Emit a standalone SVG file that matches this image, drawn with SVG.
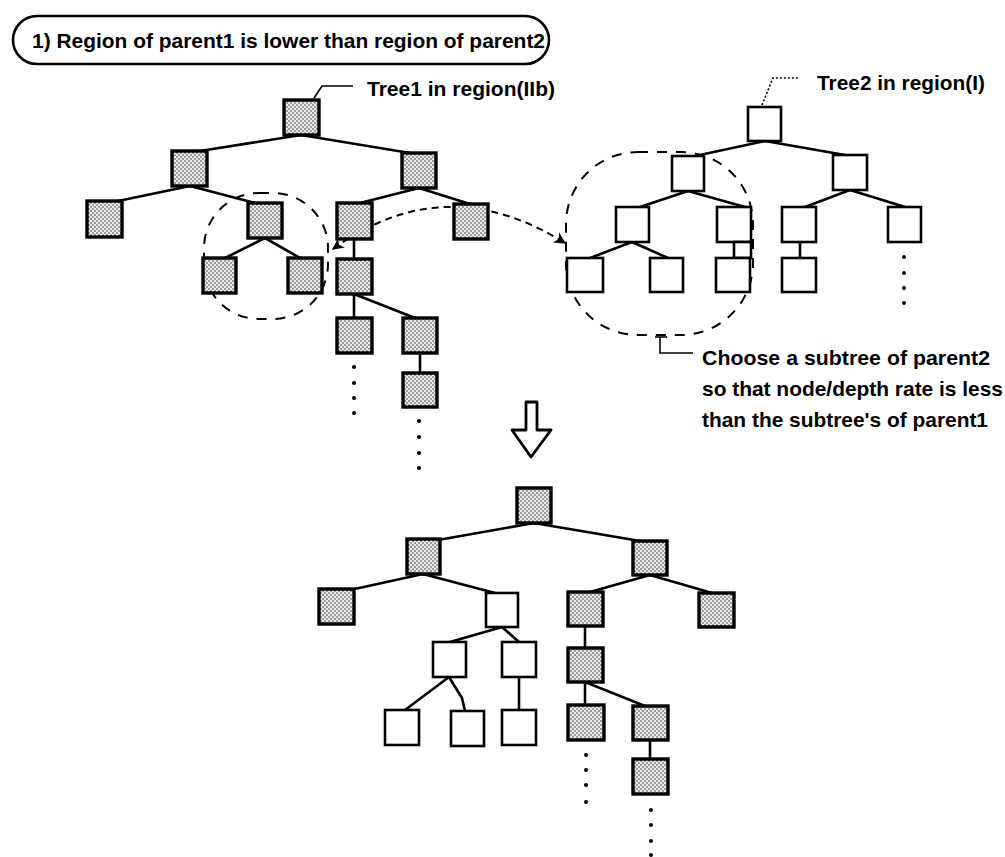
<svg xmlns="http://www.w3.org/2000/svg" width="1005" height="857" viewBox="0 0 1005 857">
<defs>
  <pattern id="dots" width="4" height="4" patternUnits="userSpaceOnUse">
    <rect width="4" height="4" fill="#ececec"/>
    <circle cx="1" cy="1" r="0.75" fill="#222"/>
    <circle cx="3" cy="3" r="0.75" fill="#222"/>
  </pattern>
  <marker id="ah" viewBox="0 0 10 10" refX="9" refY="5" markerWidth="6" markerHeight="6" orient="auto-start-reverse" markerUnits="strokeWidth">
    <path d="M0,0 L10,5 L0,10 L3,5 z" fill="#000"/>
  </marker>
</defs>
<style>
  .g { fill: url(#dots); stroke: #000; stroke-width: 3.4; }
  .w { fill: #fff; stroke: #000; stroke-width: 2.6; }
  .e { fill: none; stroke: #000; stroke-width: 2.6; stroke-linecap: round; }
  .dash { fill: none; stroke: #000; stroke-width: 2; stroke-dasharray: 10 9; }
  .lead { fill: none; stroke: #000; stroke-width: 1.6; }
  .dot { fill: #000; }
  .t { font-family: "Liberation Sans", Arial, sans-serif; font-weight: bold; font-size: 21px; fill: #000; }
</style>
<rect width="1005" height="857" fill="#fff"/>

<g id="title">
  <rect x="13" y="16" width="536" height="48" rx="24" ry="24" fill="#fff" stroke="#000" stroke-width="2.6"/>
  <text class="t" x="32" y="48" textLength="513" lengthAdjust="spacingAndGlyphs">1) Region of parent1 is lower than region of parent2</text>
</g>

<g id="labels">
  <polyline class="lead" points="314,98 322,86 353,86"/>
  <text class="t" x="367" y="96" textLength="188" lengthAdjust="spacingAndGlyphs">Tree1 in region(IIb)</text>
  <polyline class="lead" points="762,105 773,78 800,78" stroke-dasharray="2 2"/>
  <text class="t" x="817" y="90" textLength="168" lengthAdjust="spacingAndGlyphs">Tree2 in region(I)</text>
  <polyline class="lead" points="655,337 667,337"/>
  <polyline class="lead" points="660,337 660,353 693,353"/>
  <text class="t" x="702" y="365" textLength="288" lengthAdjust="spacingAndGlyphs">Choose a subtree of parent2</text>
  <text class="t" x="702" y="396" textLength="301" lengthAdjust="spacingAndGlyphs">so that node/depth rate is less</text>
  <text class="t" x="702" y="427" textLength="286" lengthAdjust="spacingAndGlyphs">than the subtree's of parent1</text>
</g>

<g id="regions">
  <rect class="dash" x="204" y="193" width="124" height="126" rx="55" ry="55"/>
  <rect class="dash" x="566" y="152" width="187" height="183" rx="72" ry="72"/>
</g>

<g id="arrow-down">
  <polygon points="526,402 537,402 537,430 551,430 531,457 512,430 526,430" fill="#fff" stroke="#000" stroke-width="2.8" stroke-linejoin="round"/>
</g>

<g id="swap-arrow">
  <path d="M333,249 Q445,168 565,243" fill="none" stroke="#000" stroke-width="2" stroke-dasharray="7 5" marker-start="url(#ah)" marker-end="url(#ah)"/>
</g>

<g id="connectors">
  <!-- tree1 -->
  <line class="e" x1="301" y1="135" x2="200" y2="151"/>
  <line class="e" x1="301" y1="135" x2="410" y2="153"/>
  <line class="e" x1="190" y1="186" x2="118" y2="201"/>
  <line class="e" x1="190" y1="186" x2="255" y2="203"/>
  <line class="e" x1="419" y1="188" x2="360" y2="203"/>
  <line class="e" x1="419" y1="188" x2="470" y2="204"/>
  <line class="e" x1="265" y1="238" x2="225" y2="258"/>
  <line class="e" x1="265" y1="238" x2="300" y2="258"/>
  <line class="e" x1="354" y1="239" x2="354" y2="259"/>
  <line class="e" x1="354" y1="294" x2="354" y2="318"/>
  <line class="e" x1="354" y1="294" x2="415" y2="318"/>
  <line class="e" x1="420" y1="353" x2="420" y2="373"/>
  <!-- tree2 -->
  <line class="e" x1="765" y1="141" x2="695" y2="156"/>
  <line class="e" x1="765" y1="141" x2="845" y2="155"/>
  <line class="e" x1="688" y1="191" x2="640" y2="207"/>
  <line class="e" x1="688" y1="191" x2="745" y2="207"/>
  <line class="e" x1="850" y1="190" x2="805" y2="207"/>
  <line class="e" x1="850" y1="190" x2="905" y2="207"/>
  <line class="e" x1="632" y1="242" x2="590" y2="258"/>
  <line class="e" x1="632" y1="242" x2="668" y2="258"/>
  <line class="e" x1="800" y1="242" x2="800" y2="258"/>
  <!-- tree3 -->
  <line class="e" x1="534" y1="523" x2="438" y2="540"/>
  <line class="e" x1="534" y1="523" x2="640" y2="541"/>
  <line class="e" x1="423" y1="574" x2="350" y2="590"/>
  <line class="e" x1="423" y1="574" x2="495" y2="593"/>
  <line class="e" x1="650" y1="575" x2="590" y2="592"/>
  <line class="e" x1="650" y1="575" x2="712" y2="593"/>
  <line class="e" x1="502" y1="627" x2="450" y2="642"/>
  <line class="e" x1="502" y1="627" x2="519" y2="642"/>
  <line class="e" x1="585" y1="626" x2="585" y2="648"/>
  <line class="e" x1="449" y1="677" x2="405" y2="710"/>
  <polyline class="e" points="449,677 462,698 465,711"/>
  <line class="e" x1="519" y1="677" x2="519" y2="710"/>
  <line class="e" x1="585" y1="682" x2="585" y2="705"/>
  <line class="e" x1="585" y1="682" x2="645" y2="706"/>
  <line class="e" x1="650" y1="740" x2="650" y2="759"/>
</g>

<g id="tree1">
  <rect id="t1-root" class="g" x="284" y="100" width="35" height="35"/>
  <rect id="t1-a" class="g" x="172" y="151" width="35" height="35"/>
  <rect id="t1-b" class="g" x="402" y="153" width="34" height="35"/>
  <rect id="t1-c" class="g" x="87" y="201" width="35" height="36"/>
  <rect id="t1-d" class="g" x="248" y="203" width="34" height="35"/>
  <rect id="t1-e" class="g" x="337" y="203" width="35" height="36"/>
  <rect id="t1-f" class="g" x="454" y="204" width="34" height="35"/>
  <rect id="t1-g" class="g" x="203" y="258" width="33" height="35"/>
  <rect id="t1-h" class="g" x="288" y="258" width="34" height="35"/>
  <rect id="t1-i" class="g" x="337" y="259" width="35" height="35"/>
  <rect id="t1-j" class="g" x="337" y="318" width="35" height="35"/>
  <rect id="t1-k" class="g" x="403" y="318" width="34" height="35"/>
  <rect id="t1-l" class="g" x="403" y="373" width="34" height="34"/>
  <g class="dot">
    <circle cx="354" cy="367" r="2"/><circle cx="354" cy="383" r="2"/><circle cx="354" cy="398" r="2"/><circle cx="354" cy="413" r="2"/>
    <circle cx="419" cy="421" r="2"/><circle cx="419" cy="437" r="2"/><circle cx="419" cy="453" r="2"/><circle cx="419" cy="468" r="2"/>
  </g>
</g>

<g id="tree2">
  <rect id="t2-root" class="w" x="748" y="107" width="33" height="34"/>
  <rect id="t2-m" class="w" x="672" y="156" width="32" height="35"/>
  <rect id="t2-n" class="w" x="833" y="155" width="34" height="35"/>
  <rect id="t2-o" class="w" x="616" y="207" width="33" height="35"/>
  <rect id="t2-p" class="w" x="717" y="207" width="34" height="35"/>
  <rect id="t2-q" class="w" x="782" y="207" width="34" height="35"/>
  <rect id="t2-s" class="w" x="888" y="207" width="33" height="35"/>
  <rect id="t2-small" class="w" x="734" y="242" width="17" height="16"/>
  <rect id="t2-t" class="w" x="567" y="258" width="36" height="34"/>
  <rect id="t2-u" class="w" x="650" y="258" width="33" height="34"/>
  <rect id="t2-v" class="w" x="716" y="258" width="34" height="34"/>
  <rect id="t2-w" class="w" x="782" y="258" width="34" height="34"/>
  <g class="dot">
    <circle cx="904" cy="257" r="2"/><circle cx="904" cy="273" r="2"/><circle cx="904" cy="288" r="2"/><circle cx="904" cy="303" r="2"/>
  </g>
</g>

<g id="tree3">
  <rect id="t3-root" class="g" x="517" y="488" width="34" height="35"/>
  <rect id="t3-x1" class="g" x="407" y="539" width="33" height="35"/>
  <rect id="t3-x2" class="g" x="633" y="541" width="34" height="34"/>
  <rect id="t3-y1" class="g" x="319" y="589" width="35" height="35"/>
  <rect id="t3-y2" class="w" x="486" y="593" width="32" height="34"/>
  <rect id="t3-y3" class="g" x="568" y="592" width="35" height="34"/>
  <rect id="t3-y4" class="g" x="699" y="593" width="35" height="34"/>
  <rect id="t3-z1" class="w" x="433" y="642" width="33" height="35"/>
  <rect id="t3-z2" class="w" x="502" y="642" width="34" height="35"/>
  <rect id="t3-z3" class="g" x="568" y="648" width="35" height="34"/>
  <rect id="t3-a" class="w" x="385" y="710" width="34" height="35"/>
  <rect id="t3-b" class="w" x="451" y="711" width="33" height="35"/>
  <rect id="t3-c" class="w" x="502" y="710" width="34" height="35"/>
  <rect id="t3-d" class="g" x="568" y="705" width="36" height="35"/>
  <rect id="t3-e" class="g" x="633" y="706" width="35" height="34"/>
  <rect id="t3-f" class="g" x="633" y="759" width="35" height="35"/>
  <g class="dot">
    <circle cx="586" cy="755" r="2"/><circle cx="586" cy="770" r="2"/><circle cx="586" cy="785" r="2"/><circle cx="586" cy="802" r="2"/>
    <circle cx="651" cy="810" r="2"/><circle cx="651" cy="825" r="2"/><circle cx="651" cy="841" r="2"/><circle cx="651" cy="855" r="2"/>
  </g>
</g>
</svg>
